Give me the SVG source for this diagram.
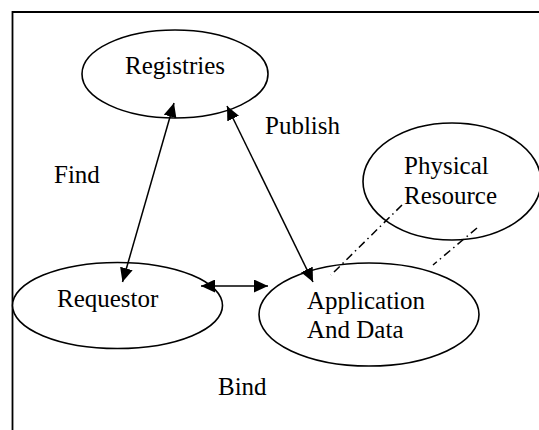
<svg xmlns="http://www.w3.org/2000/svg" width="539" height="430" viewBox="0 0 539 430">
<style>
.node{fill:#fff;stroke:#000;stroke-width:1.6}
.lbl{font-family:"Liberation Serif","Times New Roman",serif;font-size:25px;fill:#000}
.arr{stroke:#000;stroke-width:1.5;fill:none;marker-start:url(#ah);marker-end:url(#ah)}
.dd{stroke:#000;stroke-width:1.5;fill:none;stroke-dasharray:8 4 1.5 4}
</style>
<defs>
<marker id="ah" markerUnits="userSpaceOnUse" markerWidth="14" markerHeight="13" refX="14" refY="6.5" orient="auto-start-reverse">
<path d="M0,0 L14,6.5 L0,13 z" fill="#000"/>
</marker>
</defs>
<rect width="539" height="430" fill="#fff"/>
<path d="M12.5,430 V12 H539" fill="none" stroke="#000" stroke-width="1.8"/>
<g id="registries">
<ellipse class="node" cx="175" cy="74" rx="93" ry="44"/>
<text class="lbl" x="175" y="74" text-anchor="middle">Registries</text>
</g>
<g id="physical-resource">
<ellipse class="node" cx="452" cy="181.5" rx="89" ry="58.5"/>
<text class="lbl" x="404" y="174">Physical</text>
<text class="lbl" x="404" y="204">Resource</text>
</g>
<g id="requestor">
<ellipse class="node" cx="117.5" cy="305.5" rx="105" ry="43"/>
<text class="lbl" x="57" y="307">Requestor</text>
</g>
<g id="application">
<ellipse class="node" cx="369" cy="314.5" rx="110" ry="51.5"/>
<text class="lbl" x="307" y="308.5">Application</text>
<text class="lbl" x="307" y="338">And Data</text>
</g>
<g id="connectors">
<line class="arr" x1="174" y1="103" x2="122.5" y2="282"/>
<line class="arr" x1="227" y1="106" x2="313" y2="282"/>
<line class="arr" x1="201" y1="286" x2="268" y2="286"/>
<line class="dd" x1="402" y1="205" x2="331" y2="275"/>
<line class="dd" x1="477" y1="228" x2="433" y2="265"/>
</g>
<g id="labels">
<text class="lbl" x="265" y="134">Publish</text>
<text class="lbl" x="54" y="183">Find</text>
<text class="lbl" x="218" y="395">Bind</text>
</g>
</svg>
